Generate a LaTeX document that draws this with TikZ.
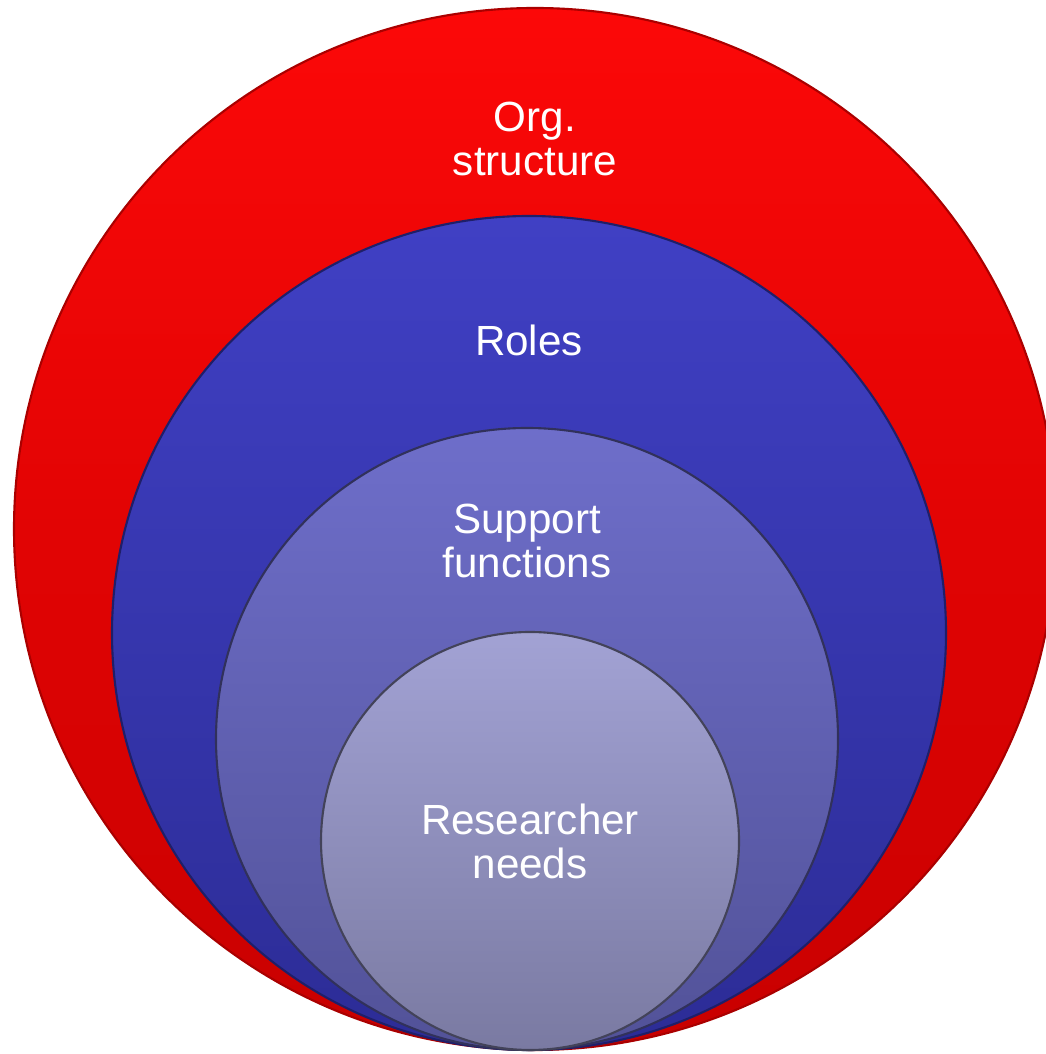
\documentclass[tikz,border=0pt]{standalone}
\usepackage{fontspec}
\setmainfont{Liberation Sans}
\usetikzlibrary{calc}
\definecolor{orgtop}{RGB}{252,8,8}
\definecolor{orgbot}{RGB}{200,0,0}
\definecolor{roltop}{RGB}{64,64,196}
\definecolor{rolbot}{RGB}{44,44,150}
\definecolor{suptop}{RGB}{110,110,202}
\definecolor{supbot}{RGB}{82,82,152}
\definecolor{restop}{RGB}{162,162,212}
\definecolor{resbot}{RGB}{122,122,162}
\tikzset{
  ring/.style={circle, inner sep=0pt, line width=0.6pt},
  lbl/.style={text=white, align=center, font=\fontsize{12}{12.5}\selectfont}
}

\begin{document}
\begin{tikzpicture}
			%%%%% START %%%%%
			\useasboundingbox (0, 0) rectangle (10.45, 10.54);
			
			\node[ring, minimum size=10.42cm, draw=orgbot!85!black, top color=orgtop, bottom color=orgbot] (org) at (5.35, 5.25) {};
			\node[ring, minimum size=8.34cm, draw=rolbot!70!black, top color=roltop, bottom color=rolbot] (roles) at (5.29, 4.21) {};
			\node[ring, minimum size=6.22cm, draw=supbot!60!black, top color=suptop, bottom color=supbot] (support) at (5.27, 3.15) {};
			\node[ring, minimum size=4.18cm, draw=resbot!55!black, top color=restop, bottom color=resbot] (research) at (5.30, 2.13) {};
			
			\node[lbl] (orglbl) at (5.35, 9.15) {Org.\\structure};
			\node[lbl] (rollbl) at (5.29, 7.14) {Roles};
			\node[lbl] (suplbl) at (5.27, 5.13) {Support\\functions};
			\node[lbl] (reslbl) at (5.30, 2.13) {Researcher\\needs};
			
			%%%%% END %%%%%
		\end{tikzpicture}
\end{document}
